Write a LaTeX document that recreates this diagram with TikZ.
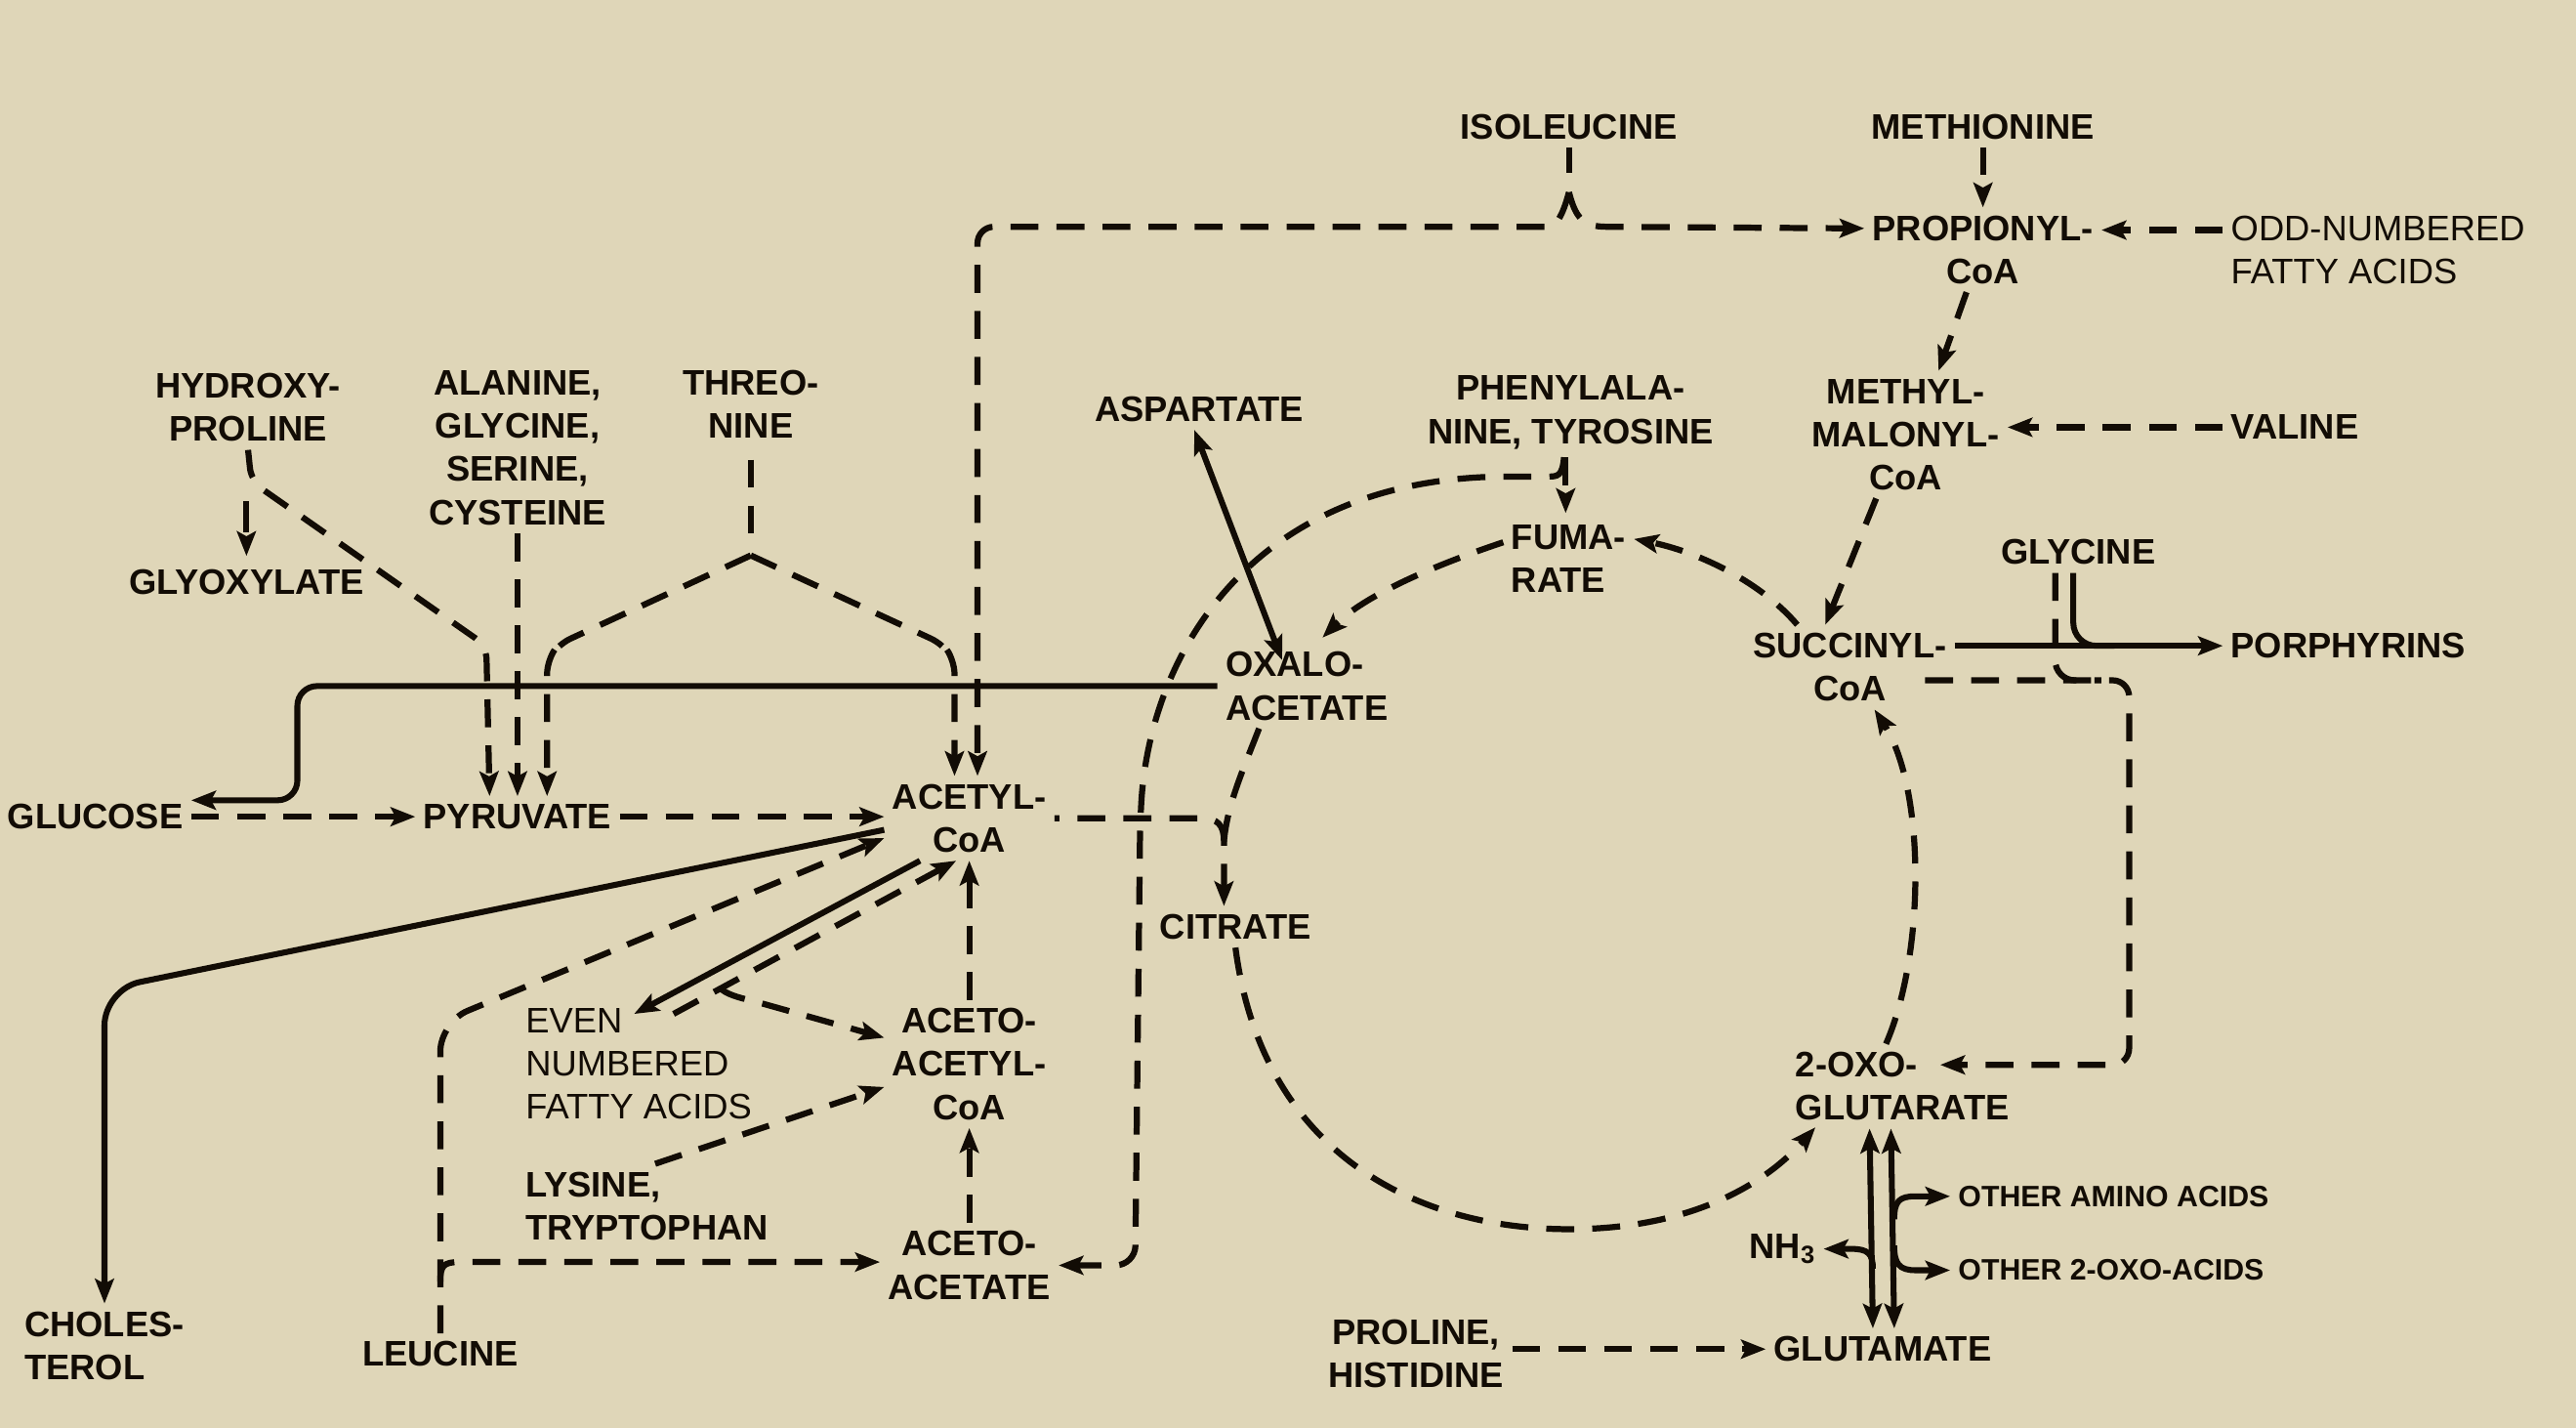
\documentclass[tikz,border=0pt]{standalone}
\usepackage{fontspec}
\setmainfont{Liberation Sans}
\usetikzlibrary{arrows.meta}
\definecolor{bg}{RGB}{223,214,184}
\definecolor{ink}{RGB}{18,12,5}
\newcommand{\bigfont}{\fontsize{21.6}{26.3}\selectfont\bfseries}
\newcommand{\regfont}{\fontsize{21.6}{26.3}\selectfont}
\newcommand{\smfont}{\fontsize{18}{22}\selectfont\bfseries}
\tikzset{
 lb/.style={font=\bigfont, text=ink, inner sep=0pt, outer sep=5pt},
 lbr/.style={font=\regfont, text=ink, inner sep=0pt, outer sep=5pt},
 lbs/.style={font=\smfont, text=ink, inner sep=0pt, outer sep=5pt},
 dsh/.style={draw=ink, line width=3.7pt, dash pattern=on 17pt off 11pt},
 sld/.style={draw=ink, line width=3.6pt},
}
\begin{document}
\begin{tikzpicture}[x=1pt,y=-1pt,>={Stealth[length=15pt,width=11.5pt,inset=3pt]}]
\fill[bg] (0,0) rectangle (1568,869);
\useasboundingbox (0,0) rectangle (1568,869);

% ---------- nodes ----------
\node[lb] (iso) at (955,77) {ISOLEUCINE};
\node[lb] (meth) at (1207,77) {METHIONINE};
\node[lb,align=center] (prop) at (1207,152) {PROPIONYL-\\CoA};
\node[lbr,align=left,anchor=west] (odd) at (1353,152) {ODD-NUMBERED\\FATTY ACIDS};
\node[lb,align=center] (hyp) at (151,248) {HYDROXY-\\PROLINE};
\node[lb,align=center] (ala) at (315,272.5) {ALANINE,\\GLYCINE,\\SERINE,\\CYSTEINE};
\node[lb,align=center] (thr) at (457,246) {THREO-\\NINE};
\node[lb] (asp) at (730,249) {ASPARTATE};
\node[lb,align=center] (phe) at (956,251) {PHENYLALA-\\NINE, TYROSINE};
\node[lb,align=center] (mmc) at (1160,264.5) {METHYL-\\MALONYL-\\CoA};
\node[lb,anchor=west] (val) at (1353,260) {VALINE};
\node[lb,align=left,anchor=west] (fum) at (915,340) {FUMA-\\RATE};
\node[lb] (gly) at (1265,336) {GLYCINE};
\node[lb] (glyox) at (150,354) {GLYOXYLATE};
\node[lb,align=center] (succ) at (1126,406) {SUCCINYL-\\CoA};
\node[lb,anchor=west] (porph) at (1353,393) {PORPHYRINS};
\node[lb,align=left,anchor=west] (oxa) at (741,417.5) {OXALO-\\ACETATE};
\node[lb] (glc) at (58,497) {GLUCOSE};
\node[lb] (pyr) at (315,497) {PYRUVATE};
\node[lb,align=center] (acc) at (590,498) {ACETYL-\\CoA};
\node[lb] (cit) at (752,564) {CITRATE};
\node[lbr,align=left,anchor=west] (even) at (315,647.5) {EVEN\\NUMBERED\\FATTY ACIDS};
\node[lb,align=center] (aacc) at (590,647.5) {ACETO-\\ACETYL-\\CoA};
\node[lb,align=left,anchor=west] (oxg) at (1088,661) {2-OXO-\\GLUTARATE};
\node[lb,align=left,anchor=west] (lys) at (315,734) {LYSINE,\\TRYPTOPHAN};
\node[lbs,anchor=west] (oaa) at (1187,728) {OTHER AMINO ACIDS};
\node[lb,anchor=east] (nh3) at (1110,760) {NH\textsubscript{3}};
\node[lbs,anchor=west] (o2oa) at (1187,773) {OTHER 2-OXO-ACIDS};
\node[lb,align=center] (aca) at (590,770) {ACETO-\\ACETATE};
\node[lb,align=left,anchor=west] (chol) at (10,819) {CHOLES-\\TEROL};
\node[lb] (leu) at (268,824) {LEUCINE};
\node[lb,align=center] (prohis) at (862,824) {PROLINE,\\HISTIDINE};
\node[lb] (glu) at (1146,821) {GLUTAMATE};

% ---------- junction coordinates ----------
\coordinate (isoJ) at (955,117);
\coordinate (thrJ) at (457,338);
\coordinate (ycit) at (745,512);
\coordinate (lb) at (268,768);
\coordinate (sq1) at (1296,414);
\coordinate (sq2) at (1296,648);
\coordinate (oxgIn) at (1181,648);
\coordinate (evTip) at (386,617);
\coordinate (evOut) at (410,617);
\coordinate (evJ) at (438,601);

% ---------- isoleucine ----------
\draw[dsh] (iso.south) -- (955,105);
\draw[dsh,->,rounded corners=10pt] (isoJ) .. controls (951,132) and (947,138) .. (932,138) -- (595,138) -- ([xshift=5pt]acc.north);
\draw[dsh,->] (isoJ) .. controls (959,132) and (963,138) .. (978,138) -- ([yshift=13pt]prop.west);

% ---------- propionyl / methylmalonyl ----------
\draw[dsh,->] (meth.south) -- (prop.north);
\draw[dsh,->] ([yshift=12pt]odd.west) -- ([yshift=12pt]prop.east);
\draw[dsh,->] ([xshift=-10pt]prop.south) -- ([xshift=20pt]mmc.north);
\draw[dsh,->] (val.west) -- (val.west -| mmc.east);
\draw[dsh,->] ([xshift=-18pt]mmc.south) -- ([xshift=-15pt]succ.north);

% ---------- succinyl, glycine, porphyrins ----------
\draw[sld,->] (succ.east |- porph.west) -- (porph.west);
\draw[sld,rounded corners=14pt] ([xshift=-3pt]gly.south) -- ([xshift=-3pt]gly.south |- porph.west) -- ++(25,0);
\draw[dsh,rounded corners=12pt] ([xshift=-14pt]gly.south) -- ([xshift=-14pt]gly.south |- sq1) -- ++(28,0);
\draw[dsh,->,rounded corners=10pt] ([xshift=-18pt,yshift=-8pt]succ.east) -- (sq1) -- (sq2) -- (oxgIn);

% ---------- TCA cycle ----------
\draw[dsh,->] ([xshift=-32pt]succ.north) .. controls (1070,352) and (1030,335) .. ([yshift=12pt]fum.east);
\draw[dsh,->] ([yshift=10pt]fum.west) .. controls (870,345) and (830,363) .. (805,388);
\draw[dsh] ([xshift=-29pt]oxa.south) .. controls (756,470) and (747,490) .. (ycit);
\draw[dsh,->,dash phase=14pt] (acc.east) -- (732,498) .. controls (741,498) and (745,502) .. (ycit) -- (cit.north -| ycit);
\draw[dsh,->] (cit.south) .. controls (768,700) and (860,748) .. (955,748) .. controls (1030,748) and (1075,720) .. (1105,686);
\draw[dsh,->] ([xshift=-10pt]oxg.north) .. controls (1172,580) and (1172,480) .. ([xshift=15pt]succ.south);

% ---------- phenylalanine, tyrosine ----------
\draw[dsh,->] ([xshift=-3pt]phe.south) -- ([xshift=-3pt,yshift=-34pt]phe.south);
\draw[dsh,->,rounded corners=12pt] ([xshift=-4pt]phe.south) .. controls (951,290) and (948,290) .. (930,290) .. controls (760,290) and (700,400) .. (694,500) -- (691,770) -- (aca.east);

% ---------- aspartate ----------
\draw[sld,<->] ([xshift=-3pt]asp.south) -- ([xshift=-15pt,yshift=-10pt]oxa.north);

% ---------- gluconeogenesis ----------
\draw[sld,->,rounded corners=12pt] (oxa.west) -- (181,417.5) -- (181,487) -- ([yshift=10pt]glc.east);
\draw[dsh,->] (glc.east) -- (pyr.west);

% ---------- hydroxyproline, alanine..., threonine ----------
\draw[dsh,->,dash pattern=on 19pt off 6pt] (150,305) -- ([yshift=3pt]glyox.north);
\draw[dsh,->,rounded corners=8pt] (hyp.south) -- (153,293) -- (296,393) -- ([xshift=-17pt]pyr.north);
\draw[dsh,->] (ala.south) -- (pyr.north);
\draw[dsh] ([yshift=-8pt]thr.south) -- (457,326);
\draw[dsh,->,rounded corners=8pt] (thrJ) -- (340,392) -- (333,402) -- ([xshift=18pt]pyr.north);
\draw[dsh,->,rounded corners=8pt] (thrJ) -- (574,392) -- (581,402) -- ([xshift=-9pt]acc.north);
\draw[dsh,->] (pyr.east) -- (acc.west |- pyr.east);

% ---------- cholesterol ----------
\draw[sld,->,rounded corners=22pt] ([yshift=-7pt]acc.west) -- (chol.north |- 0,602) -- (chol.north);

% ---------- leucine ----------
\draw[dsh,->,rounded corners=18pt] (leu.north) -- (268,622) -- ([yshift=-12pt]acc.west);
\draw[dsh,->] (268,780) .. controls (268,770) and (270,768) .. (280,768) -- (aca.west |- lb);

% ---------- fatty acids, ketone bodies ----------
\draw[sld,->] ([xshift=-30pt]acc.south) -- (evTip);
\draw[dsh,->] (evOut) -- ([xshift=-8pt]acc.south);
\draw[dsh,->] (evJ) .. controls (442,605) and (449,607) .. (458,609) -- ([yshift=16pt]aacc.west);
\draw[dsh,->] ([xshift=5pt]lys.north) -- ([yshift=-14pt]aacc.west);
\draw[dsh,->] (aca.north) -- (aacc.south);
\draw[dsh,->] (aacc.north) -- (acc.south);

% ---------- glutamate ----------
\draw[sld,<->] ([xshift=-20pt]oxg.south) -- ([xshift=-6pt]glu.north);
\draw[sld,<->] ([xshift=-7pt]oxg.south) -- ([xshift=7pt]glu.north);
\draw[sld,->] (1153,742) .. controls (1153,731) and (1156,728) .. (1166,728) -- (oaa.west);
\draw[sld,->] (1153,758) .. controls (1153,769) and (1156,773) .. (1166,773) -- (o2oa.west);
\draw[sld,->] (1140,772) .. controls (1140,763) and (1137,760) .. (1127,760) -- (nh3.east);
\draw[dsh,->] (prohis.east |- glu.west) -- (glu.west);
\end{tikzpicture}
\end{document}
